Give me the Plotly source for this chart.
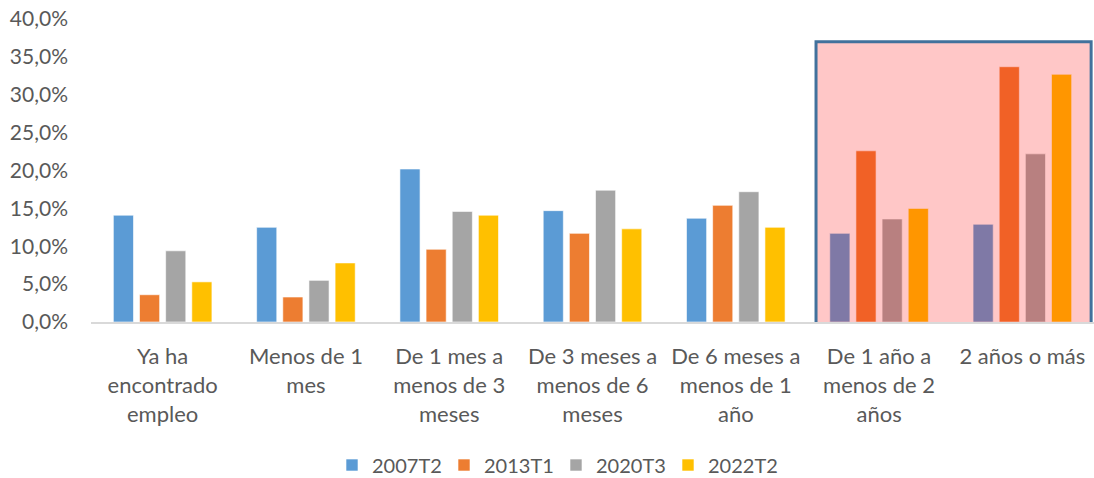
import plotly.graph_objects as go

categories = [
    "Ya ha<br>encontrado<br>empleo",
    "Menos de 1<br>mes",
    "De 1 mes a<br>menos de 3<br>meses",
    "De 3 meses a<br>menos de 6<br>meses",
    "De 6 meses a<br>menos de 1<br>año",
    "De 1 año a<br>menos de 2<br>años",
    "2 años o más",
]
series_names = ["2007T2", "2013T1", "2020T3", "2022T2"]
s2007T2 = [14.1, 12.5, 20.2, 14.7, 13.7, 11.7, 12.9]
s2013T1 = [3.6, 3.3, 9.6, 11.7, 15.4, 22.6, 33.7]
s2020T3 = [9.4, 5.5, 14.6, 17.4, 17.2, 13.6, 22.2]
s2022T2 = [5.3, 7.8, 14.1, 12.3, 12.5, 15.0, 32.7]
colors = ["#5B9BD5", "#ED7D31", "#A5A5A5", "#FFC000"]
y_ticks = [0, 5, 10, 15, 20, 25, 30, 35, 40]

FONT = "Lato, Calibri, 'Open Sans', sans-serif"
TXT = "#595959"

fig = go.Figure()
for name, vals, col in zip(series_names, [s2007T2, s2013T1, s2020T3, s2022T2], colors):
    fig.add_trace(go.Bar(
        x=categories, y=[v / 100 for v in vals], name=name,
        marker=dict(color=col, line=dict(color="rgba(255,255,255,0.6)", width=1)),
    ))

# highlight box over last two categories
fig.add_shape(type="rect", xref="x", yref="y",
              x0=4.56, x1=6.48, y0=-0.004, y1=0.37,
              fillcolor="rgba(255,0,0,0.22)",
              line=dict(color="#41719C", width=3), layer="above")

fig.update_layout(
    width=1094, height=478,
    margin=dict(l=91, r=0, t=19, b=156, autoexpand=False),
    paper_bgcolor="white", plot_bgcolor="white",
    separators=",.",
    barmode="group", bargap=0.27, bargroupgap=0.23,
    font=dict(family=FONT, size=21, color=TXT),
    showlegend=True,
    legend=dict(orientation="h", x=(332 - 91) / 1003, xanchor="left", y=-0.472, yanchor="middle",
                font=dict(family=FONT, size=20, color=TXT),
                entrywidth=67, entrywidthmode="pixels", traceorder="normal"),
    xaxis=dict(range=[-0.5, 6.5], showline=True, linecolor="#D9D9D9", linewidth=2,
               ticks="", showgrid=False, tickfont=dict(size=22, color=TXT),
               ticklabelstandoff=14, automargin=False),
    yaxis=dict(range=[0, 0.4], tickvals=[v / 100 for v in y_ticks], tickformat=".1%",
               showgrid=False, zeroline=False, showline=False, ticks="",
               ticklabeloverflow="allow", automargin=False,
               tickfont=dict(size=21, color=TXT), ticklabelstandoff=22),
)

fig.write_html("out.html",
               config={"displayModeBar": False},
               post_script="document.body.style.margin='0';document.body.style.overflow='hidden';")
